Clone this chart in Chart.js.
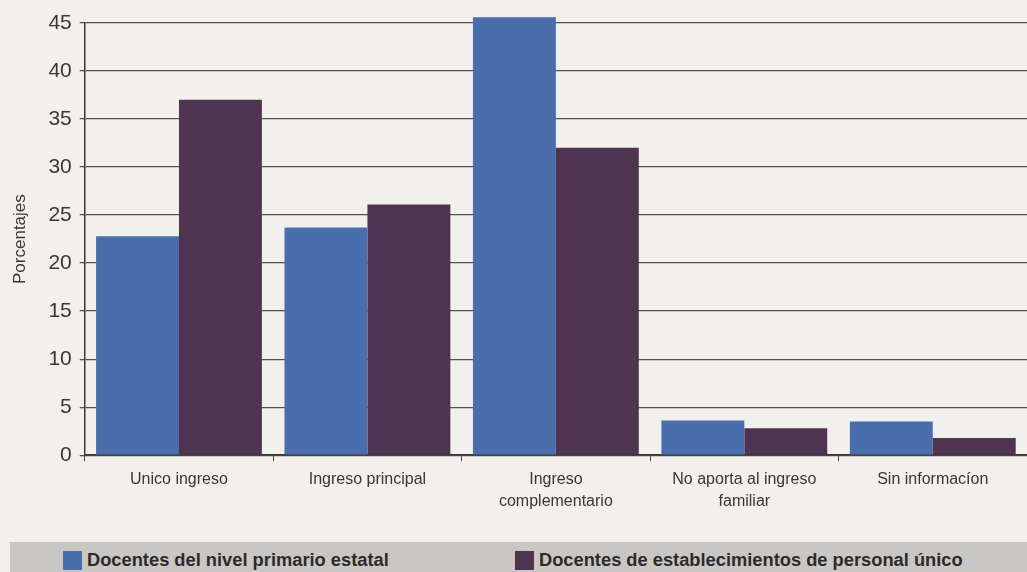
<!DOCTYPE html>
<html lang="es">
<head>
<meta charset="utf-8">
<title>Porcentajes por tipo de ingreso</title>
<script src="https://cdn.jsdelivr.net/npm/chart.js@4.4.1/dist/chart.umd.min.js"></script>
<style>
  html, body { margin: 0; padding: 0; background: #f2f0ec; }
  body { width: 1027px; height: 572px; overflow: hidden; position: relative;
         font-family: "Liberation Sans", Arial, sans-serif; }
  #wrap { position: absolute; left: 0; top: 0; width: 1027px; height: 520px; }
  #legend { position: absolute; left: 10px; top: 542px; width: 1017px; height: 30px;
            background: #c9c7c4; }
  .item { position: absolute; top: 8px; display: flex; align-items: center;
          font-weight: bold; font-size: 18.3px; line-height: 20px; color: #2e2a2c; }
  .box { width: 19px; height: 19px; margin-right: 5px; }
</style>
</head>
<body>
<div id="wrap"><canvas id="chart"></canvas></div>
<div id="legend"></div>
<script>
// --- DATOS ---
const categorias = [
  "Unico ingreso",
  "Ingreso principal",
  ["Ingreso", "complementario"],
  ["No aporta al ingreso", "familiar"],
  "Sin informacíon",
];
const primarioEstatal = [22.8, 23.7, 45.6, 3.6, 3.5];
const personalUnico = [37.0, 26.1, 32.0, 2.8, 1.8];
const series = [
  "Docentes del nivel primario estatal",
  "Docentes de establecimientos de personal único",
];
const colores = ["#4a6dab", "#4f3452"];
const legendX = [53, 505]; // posición de cada entrada de la leyenda

const FONT = "'Liberation Sans', Arial, sans-serif";

// --- GRÁFICO ---
const ctx = document.getElementById("chart");
const chart = new Chart(ctx, {
  type: "bar",
  data: {
    labels: categorias,
    datasets: [
      { label: series[0], data: primarioEstatal, backgroundColor: colores[0] },
      { label: series[1], data: personalUnico, backgroundColor: colores[1] },
    ].map((d) => ({ ...d, categoryPercentage: 0.88, barPercentage: 1.0, clip: false })),
  },
  options: {
    responsive: true,
    maintainAspectRatio: false,
    animation: false,
    layout: { padding: { top: 23, right: 0, left: 10, bottom: 0 } },
    plugins: {
      legend: { display: false },
      tooltip: { enabled: false },
    },
    scales: {
      x: {
        grid: {
          drawOnChartArea: false,
          drawTicks: true,
          tickLength: 6,
          color: "#4a4446",
          offset: true,
        },
        border: { color: "#3c3638", width: 1.5 },
        ticks: {
          color: "#3a3537",
          font: { family: FONT, size: 16, lineHeight: 1.4 },
          padding: 7,
          maxRotation: 0,
        },
      },
      y: {
        min: 0,
        max: 45,
        ticks: {
          stepSize: 5,
          color: "#3a3537",
          font: { family: FONT, size: 21 },
          padding: 8,
        },
        grid: { color: "#55504f", lineWidth: 1.3, tickLength: 5 },
        border: { color: "#3c3638", width: 1.5 },
        title: {
          display: true,
          text: "Porcentajes",
          color: "#3a3537",
          font: { family: FONT, size: 17 },
          padding: { top: 0, bottom: 10 },
        },
      },
    },
  },
});

// --- LEYENDA (banda gris inferior) ---
const legend = document.getElementById("legend");
legend.innerHTML = series
  .map(
    (s, i) => `
      <div class="item" style="left:${legendX[i]}px">
        <span class="box" style="background:${colores[i]}"></span>${s}
      </div>`,
  )
  .join("");
</script>
</body>
</html>
